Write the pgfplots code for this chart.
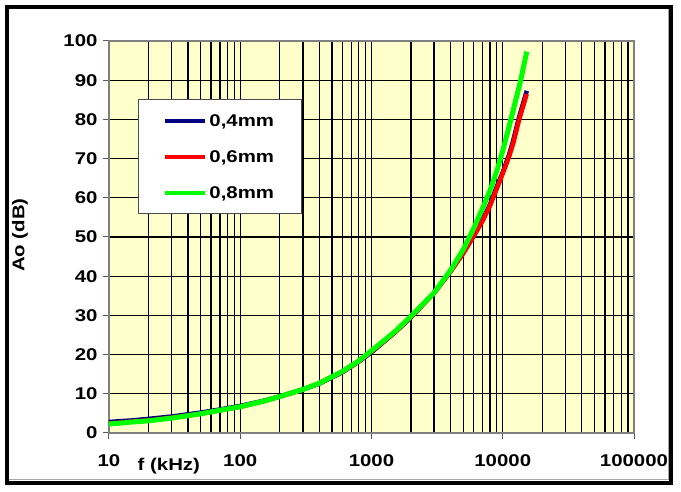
\documentclass[border=0pt]{standalone}
\usepackage{fontspec}
\setmainfont{Liberation Sans}[FakeStretch=1.2]
\usepackage{pgfplots}
\pgfplotsset{compat=1.18}
\definecolor{bg}{RGB}{255,255,204}
\definecolor{navy}{RGB}{0,0,128}
\definecolor{lgreen}{RGB}{0,255,0}
\newcommand\cf{\fontsize{17}{20}\selectfont\bfseries}
\begin{document}
\begin{tikzpicture}[x=1pt,y=1pt]
\path[use as bounding box] (-109,-59) rectangle (572,433);
\draw[gray!70, line width=1pt] (559,424) -- (559,-47) -- (-100,-47);
\draw[line width=4pt] (-102,-50) rectangle (562,426);
\begin{axis}[at={(0,0)}, anchor=south west, scale only axis, width=525pt, height=392pt,
  xmode=log, log basis x=10, xmin=10, xmax=100000, ymin=0, ymax=100,
  ytick={0,10,...,100},
  xtick={10,100,1000,10000,100000}, xticklabels={10,100,1000,10000,100000},
  minor xtick={20,30,40,50,60,70,80,90,200,300,400,500,600,700,800,900,
    2000,3000,4000,5000,6000,7000,8000,9000,20000,30000,40000,50000,60000,70000,80000,90000},
  tick align=outside, major tick length=6pt, minor tick length=0pt, tick pos=left,
  grid=both,
  major grid style={black, line width=1.3pt},
  minor grid style={black, line width=1.3pt},
  axis line style={draw=gray, line width=2.5pt},
  major tick style={gray!70!black, line width=1pt},
  axis background/.style={fill=bg},
  ticklabel style={font=\cf},
  xticklabel style={yshift=-12pt},
  yticklabel style={xshift=-2pt},
  /pgf/number format/assume math mode=true,
  ylabel={Ao (dB)},
  ylabel style={font=\cf, at={(axis description cs:-0.1695,0.505)}, anchor=center},
  xlabel={f (kHz)},
  xlabel style={font=\cf, at={(axis description cs:0.114,-0.0962)}, anchor=base},
  legend style={at={(0.0552,0.851)}, anchor=north west, draw=gray!60!black, line width=1pt,
    fill=white, inner xsep=25pt, inner ysep=13pt, row sep=20pt, font=\cf,
    nodes={inner sep=2pt, text height=12pt, text depth=0pt}},
  legend cell align=left,
  legend image code/.code={\draw[#1, line width=4pt] (0pt,0pt) -- (40pt,0pt);},
]
\addplot[navy, line width=4.5pt, line join=round] coordinates {
(10,2.8)(12,3.0)(15,3.2)(20,3.6)(30,4.2)(50,5.2)(70,6.0)(100,6.9)(150,8.2)(200,9.3)
(300,11.1)(400,12.6)(600,15.5)(800,18.2)(1000,20.6)(1500,25.6)(2000,29.5)(3000,35.8)
(4000,41.2)(5000,46)(6000,50.3)(7000,54.4)(8000,58.3)(9000,62.8)(10000,66.5)
(11170,71)(12000,74.5)(13300,80.5)(15240,87.3)};
\addlegendentry{0,4mm}
\addplot[red, line width=4.5pt, line join=round] coordinates {
(10,2.4)(12,2.6)(15,2.9)(20,3.2)(30,3.9)(50,4.9)(70,5.8)(100,6.7)(150,8.1)(200,9.3)
(300,11.1)(400,12.7)(600,15.6)(800,18.3)(1000,20.8)(1500,25.6)(2000,29.6)(3000,35.7)
(4000,41.2)(5000,45.8)(6000,50.2)(7000,54)(8000,58)(9000,62.3)(10000,66.2)
(11170,70.5)(12000,73.8)(13300,79.8)(15240,86.5)};
\addlegendentry{0,6mm}
\addplot[lgreen, line width=5pt, line join=round] coordinates {
(10,2.3)(12,2.5)(15,2.8)(20,3.1)(30,3.8)(50,4.9)(70,5.8)(100,6.7)(150,8.1)(200,9.3)
(300,11.1)(400,12.7)(600,15.7)(800,18.4)(1000,21)(1500,25.8)(2000,29.8)(3000,35.8)
(4000,41.5)(5000,46.8)(6000,52.2)(7000,57.2)(8000,61.9)(9000,66.8)(10000,72)
(11500,79.8)(13700,90)(15240,97.3)};
\addlegendentry{0,8mm}
\end{axis}
\end{tikzpicture}
\end{document}
